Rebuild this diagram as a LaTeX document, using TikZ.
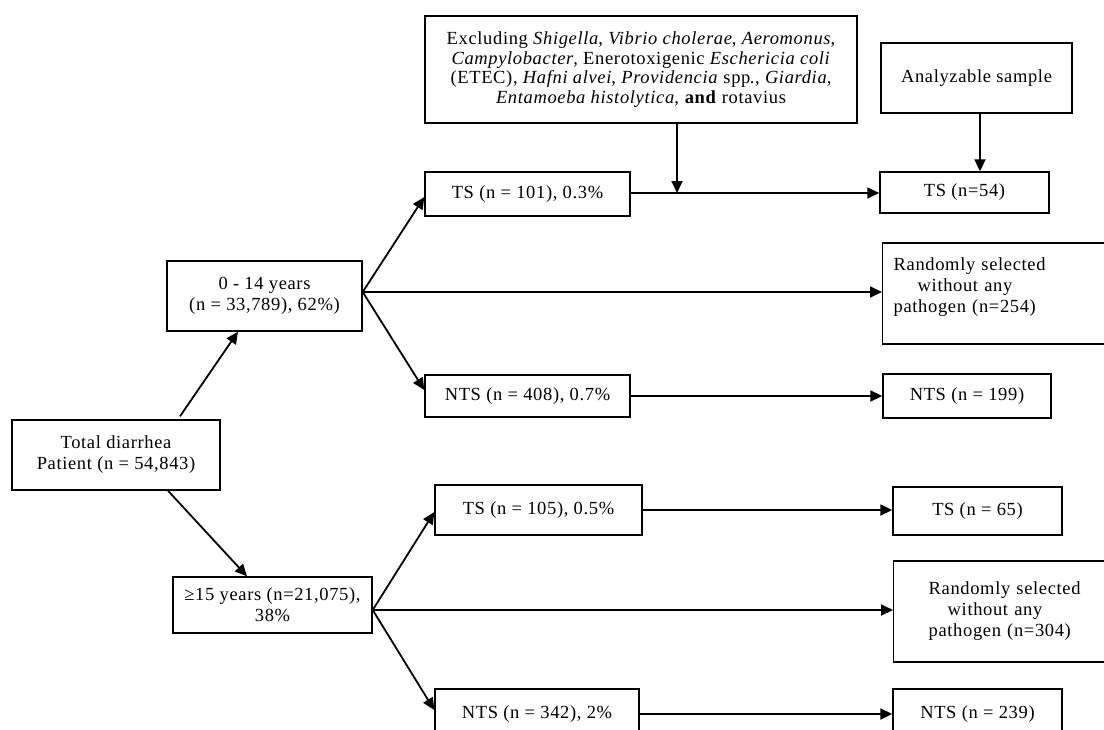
\documentclass[tikz,border=0pt]{standalone}
\usepackage{fontspec}
\setmainfont{Liberation Serif}[LetterSpace=3.5]
\usetikzlibrary{arrows.meta,calc}
\begin{document}
\begin{tikzpicture}[x=1pt,y=-1pt,
  box/.style={draw, line width=1.4pt, inner sep=0pt, align=center, font=\fontsize{18.5}{21}\selectfont},
  arr/.style={line width=1.8pt, -{Triangle[length=12pt,width=11pt]}},
  ln/.style={line width=1.8pt}]
\useasboundingbox (0,0) rectangle (1104,729);
\clip (0,0) rectangle (1104,729);
\fill[white] (0,0) rectangle (1104,729);

% nodes
\node[box, minimum width=432pt, minimum height=107pt, font=\fontsize{18.5}{19.5}\selectfont] (excl) at (641,69.5)
  {Excluding \textit{Shigella}, \textit{Vibrio cholerae}, \textit{Aeromonus},\\
   \textit{Campylobacter}, Enerotoxigenic \textit{Eschericia coli}\\
   (ETEC), \textit{Hafni alvei}, \textit{Providencia} spp\textit{.}, \textit{Giardia},\\
   \textit{Entamoeba histolytica}, \textbf{and} rotavius};
\node[box, minimum width=191pt, minimum height=70pt] (anal) at (976.5,78) {Analyzable sample};

\node[box, minimum width=205pt, minimum height=44pt] (ts101) at (527.5,194) {TS (n = 101), 0.3\%};
\node[box, minimum width=169pt, minimum height=41pt] (ts54) at (964.5,192.5) {TS (n=54)};

\node[box, minimum width=195pt, minimum height=70pt] (age1) at (264.5,296) {0 - 14 years\\(n = 33,789), 62\%)};
\node[box, anchor=west, minimum height=101pt, text width=216pt, inner xsep=11pt, align=left] (rand1) at (882,293.5)
  {Randomly selected\\\hspace*{24pt}without any\\pathogen (n=254)\rule[-17pt]{0pt}{1pt}};

\node[box, minimum width=205pt, minimum height=42pt] (nts408) at (527.5,396) {NTS (n = 408), 0.7\%};
\node[box, minimum width=168pt, minimum height=44pt] (nts199) at (967,396) {NTS (n = 199)};

\node[box, minimum width=208pt, minimum height=70pt] (total) at (116,455) {Total diarrhea\\Patient (n = 54,843)};

\node[box, minimum width=207pt, minimum height=50pt] (ts105) at (538.5,510) {TS (n = 105), 0.5\%};
\node[box, minimum width=169pt, minimum height=48pt] (ts65) at (977.5,511) {TS (n = 65)};

\node[box, minimum width=199pt, minimum height=56pt] (age2) at (272.5,605) {≥15 years (n=21,075),\\38\%};
\node[box, anchor=west, minimum height=101pt, text width=200pt, inner xsep=35pt, align=left] (rand2) at (893,611.5)
  {Randomly selected\\\hspace*{19pt}without any\\pathogen (n=304)};

\node[box, minimum width=204pt, minimum height=50pt] (nts342) at (537,714) {NTS (n = 342), 2\%};
\node[box, minimum width=169pt, minimum height=50pt] (nts239) at (977.5,714) {NTS (n = 239)};

% connectors
\draw[arr] ([xshift=64pt,yshift=3pt]total.north) -- ([xshift=-26.5pt]age1.south);
\draw[arr] ([xshift=52pt]total.south) -- ([xshift=-25.5pt]age2.north);

\coordinate (j1) at ([yshift=4pt]age1.east);
\draw[arr] (j1) -- ([yshift=-3pt]ts101.west);
\draw[arr] (j1) -- (j1 -| rand1.west);
\draw[arr] (j1) -- ([yshift=6pt]nts408.west);

\coordinate (j2) at ([yshift=-5pt]age2.east);
\draw[arr] (j2) -- ([yshift=-2pt]ts105.west);
\draw[arr] (j2) -- (j2 -| rand2.west);
\draw[arr] (j2) -- ([yshift=4pt]nts342.west);

\draw[arr] ([yshift=1pt]ts101.east) -- ([yshift=1pt]ts101.east -| ts54.west);
\draw[arr] (nts408.east) -- (nts408.east -| nts199.west);
\draw[arr] (ts105.east) -- (ts105.east -| ts65.west);
\draw[arr] (nts342.east) -- (nts342.east -| nts239.west);

\draw[arr] ([xshift=3.5pt]anal.south) -- ([xshift=3.5pt]anal.south |- ts54.north);
\coordinate (merge) at ([xshift=36pt]excl.south |- ts101.east);
\draw[arr] ([xshift=36pt]excl.south) -- ([yshift=1pt]merge);
\end{tikzpicture}
\end{document}
